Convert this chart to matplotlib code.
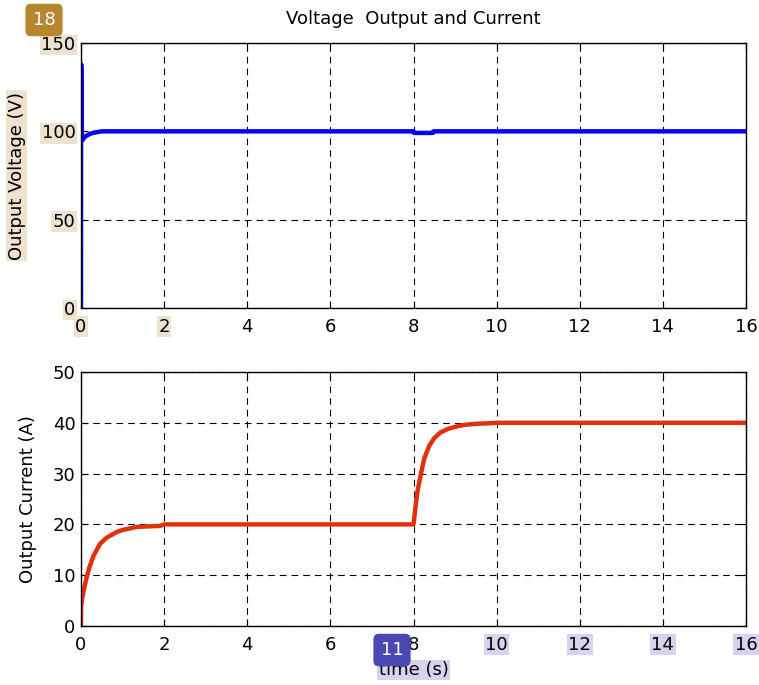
import matplotlib
matplotlib.use("Agg")
import matplotlib.pyplot as plt

plt.rcParams["font.family"] = ["DejaVu Sans"]
plt.rcParams["font.size"] = 13

# Data

T_VOLT = [0, 0.003, 0.008, 0.015, 0.02, 0.03, 0.05, 0.08, 0.1, 0.15, 0.22,
          0.3, 0.4, 0.5, 8.0, 8.01, 8.47, 8.48, 16.0]
VOLT = [0, 138, 136, 114, 100, 95, 95.5, 96.5, 97, 97.8, 98.6,
        99.2, 99.6, 100, 100, 99.1, 99.1, 100, 100]

T_CURR = [0, 0.003, 0.03, 0.06, 0.1, 0.14, 0.2, 0.3, 0.46, 0.62, 0.86, 1.0,
          1.34, 1.6, 1.9, 2.0, 8.0, 8.05, 8.1, 8.18, 8.26, 8.38, 8.5, 8.65,
          8.83, 9.0, 9.23, 9.5, 9.8, 10.0, 16.0]
CURR = [0, 4.0, 5.5, 6.8, 8.3, 9.7, 11.5, 13.8, 16.2, 17.4, 18.5, 18.9,
        19.5, 19.6, 19.7, 20.0, 20.0, 23.5, 26.7, 30.0, 33.0, 35.5, 37.0, 38.1,
        38.8, 39.2, 39.6, 39.8, 39.9, 40.0, 40.0]

X_TICKS = list(range(0, 17, 2))
V_TICKS = [0, 50, 100, 150]
I_TICKS = [0, 10, 20, 30, 40, 50]

TAN = "#ece2cd"
LAV = "#d5d3ee"

W, H = 759, 685
fig = plt.figure(figsize=(W / 100, H / 100), dpi=100)


def px_axes(left, top, right, bottom):
    return fig.add_axes([left / W, 1 - bottom / H, (right - left) / W, (bottom - top) / H])


def style(ax, yticks):
    ax.set_xlim(0, 16)
    ax.set_xticks(X_TICKS)
    ax.set_ylim(yticks[0], yticks[-1])
    ax.set_yticks(yticks)
    ax.grid(True, color="k", linestyle=(0, (6, 4.5)), linewidth=0.8)
    ax.tick_params(direction="in", length=5, top=True, right=True, labelsize=13)
    ax.tick_params(axis="x", pad=7)
    ax.tick_params(axis="y", pad=4)
    for s in ax.spines.values():
        s.set_linewidth(1.0)


ax1 = px_axes(81, 43, 746, 308)
ax1.plot(T_VOLT, VOLT, color="#0000ff", linewidth=3.2)
style(ax1, V_TICKS)
ax1.set_ylabel("Output Voltage (V)", fontsize=13,
               bbox=dict(facecolor=TAN, edgecolor="none", pad=1))
ax1.yaxis.set_label_coords(-0.083, 0.5)
fig.text(413.5 / W, 1 - 19 / H, "Voltage  Output and Current", fontsize=13,
         ha="center", va="center")

ax2 = px_axes(81, 372, 746, 626)
ax2.plot(T_CURR, CURR, color="#e0300c", linewidth=3.2)
style(ax2, I_TICKS)
ax2.set_ylabel("Output Current (A)", fontsize=13)
ax2.yaxis.set_label_coords(-0.066, 0.5)
ax2.set_xlabel("time (s)", fontsize=13,
               bbox=dict(facecolor=LAV, edgecolor="none", pad=1))
ax2.xaxis.set_label_coords(0.5, -0.138)

# highlight boxes on selected tick labels
for lab in ax1.get_yticklabels():
    lab.set_bbox(dict(facecolor=TAN, edgecolor="none", pad=1))
for lab in ax1.get_xticklabels()[:2]:
    lab.set_bbox(dict(facecolor=TAN, edgecolor="none", pad=1))
for lab in ax2.get_xticklabels()[5:]:
    lab.set_bbox(dict(facecolor=LAV, edgecolor="none", pad=1))

# badges
fig.text(44 / W, 1 - 20 / H, "18", color="white", fontsize=13, ha="center", va="center",
         bbox=dict(boxstyle="round,pad=0.4,rounding_size=0.3", facecolor="#b8862f", edgecolor="none"))
fig.text(392 / W, 1 - 650 / H, "11", color="white", fontsize=13, ha="center", va="center",
         bbox=dict(boxstyle="round,pad=0.4,rounding_size=0.3", facecolor="#4b47b5", edgecolor="none"))

fig.savefig("out.png", dpi=100)
